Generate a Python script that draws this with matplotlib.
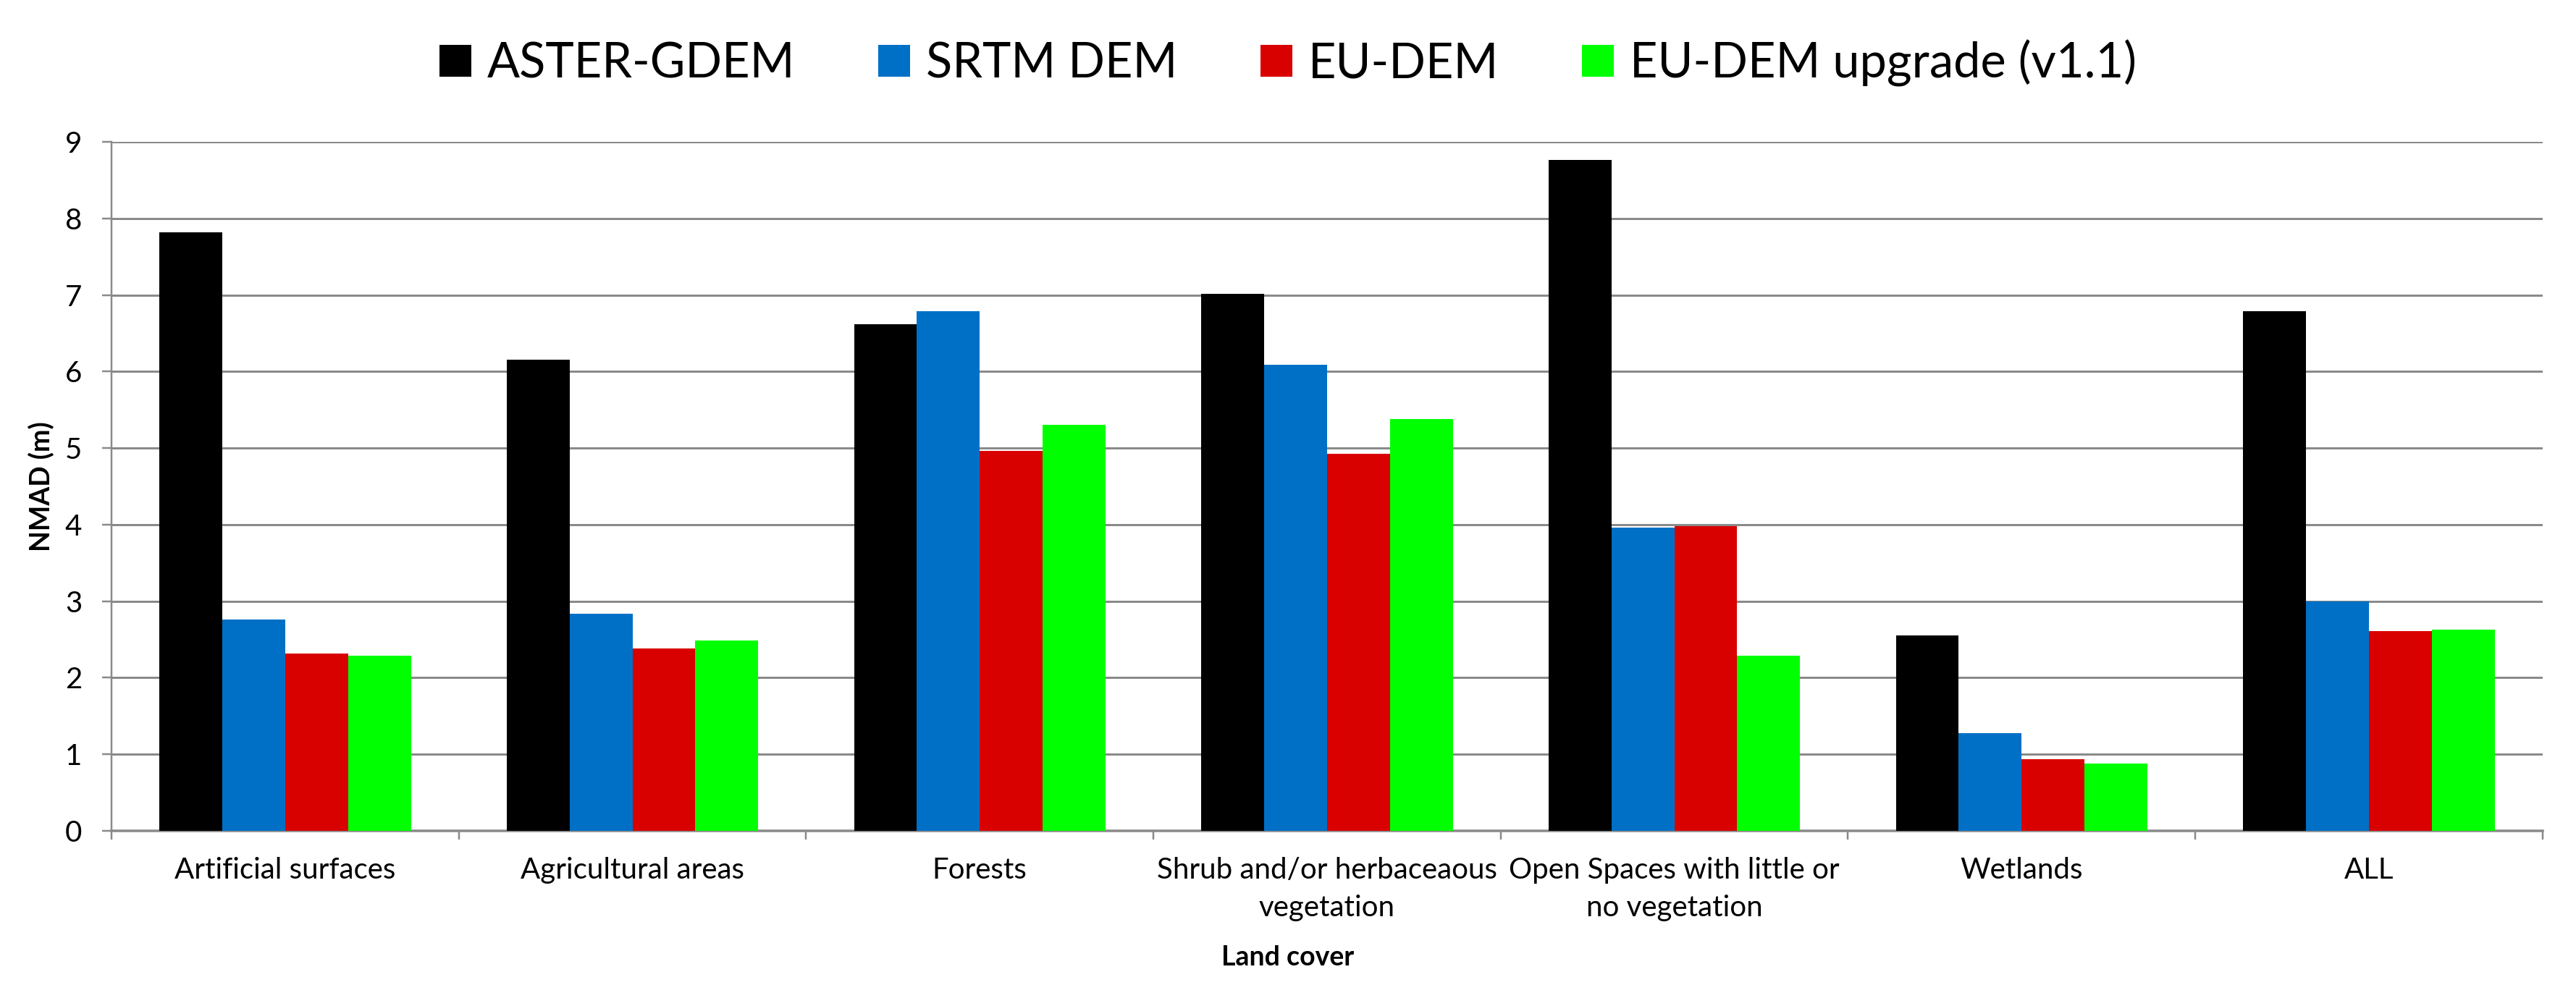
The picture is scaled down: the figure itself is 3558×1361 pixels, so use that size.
import numpy as np
import matplotlib
matplotlib.use("Agg")
import matplotlib.pyplot as plt
from matplotlib.ticker import FixedLocator

plt.rcParams["font.family"] = ["Lato", "DejaVu Sans"]

# values (NMAD in metres)
categories = [
    "Artificial surfaces",
    "Agricultural areas",
    "Forests",
    "Shrub and/or herbaceaous\nvegetation",
    "Open Spaces with little or\nno vegetation",
    "Wetlands",
    "ALL",
]
series_names = ["ASTER-GDEM", "SRTM DEM", "EU-DEM", "EU-DEM upgrade (v1.1)"]
aster = [7.82, 6.15, 6.62, 7.01, 8.76, 2.55, 6.79]
srtm = [2.76, 2.84, 6.79, 6.09, 3.96, 1.28, 3.00]
eudem = [2.32, 2.38, 4.96, 4.93, 3.98, 0.94, 2.61]
eudem_v11 = [2.29, 2.49, 5.30, 5.38, 2.29, 0.88, 2.63]
colors = ["#000000", "#0070C6", "#D90000", "#00FF00"]

grid_grey = "#8A8A8A"
px = 0.72  # one pixel in points at dpi 100

fig = plt.figure(figsize=(35.58, 13.61), dpi=100)
ax = fig.add_axes([0.0433, 0.1565, 0.9437, 0.6995])

x = np.arange(len(categories))
width = 0.181
all_series = [aster, srtm, eudem, eudem_v11]
for i, (vals, name, col) in enumerate(zip(all_series, series_names, colors)):
    ax.bar(x + (i - 1.5) * width, vals, width, color=col, label=name, zorder=3)

ax.set_xlim(-0.5, len(categories) - 0.5)
ax.set_ylim(0, 9)
ax.set_yticks(range(0, 10))

ax.set_axisbelow(True)
ax.yaxis.grid(True, color=grid_grey, linewidth=3 * px)
ax.xaxis.grid(False)

for side in ["top", "right"]:
    ax.spines[side].set_visible(False)
ax.spines["left"].set_color(grid_grey)
ax.spines["left"].set_linewidth(2.5 * px)
ax.spines["bottom"].set_color(grid_grey)
ax.spines["bottom"].set_linewidth(3.5 * px)

ax.set_xticks(x)
ax.set_xticklabels(categories, fontsize=29, linespacing=1.5)
ax.tick_params(axis="x", which="major", length=0, pad=26)
ax.xaxis.set_minor_locator(FixedLocator(np.arange(-0.5, len(categories), 1.0)))
ax.tick_params(axis="x", which="minor", length=12 * px, width=2.5 * px,
               color=grid_grey)
ax.tick_params(axis="y", length=13 * px, width=2.5 * px, color=grid_grey,
               labelsize=29, pad=20)

fig.text(0.5, 1 - 1323 / 1361, "Land cover", ha="center", va="center",
         fontsize=27, fontweight="bold")
fig.text(57 / 3558, 0.506, "NMAD (m)", ha="center", va="center",
         rotation=90, fontsize=27, fontweight="bold")

fig.legend(loc="center", bbox_to_anchor=(0.5, 0.936), ncol=4, frameon=False,
           fontsize=48, handlelength=0.66, handleheight=0.63,
           handletextpad=0.33, columnspacing=1.72, borderpad=0)

fig.savefig("out.png", dpi=100, facecolor="white")
